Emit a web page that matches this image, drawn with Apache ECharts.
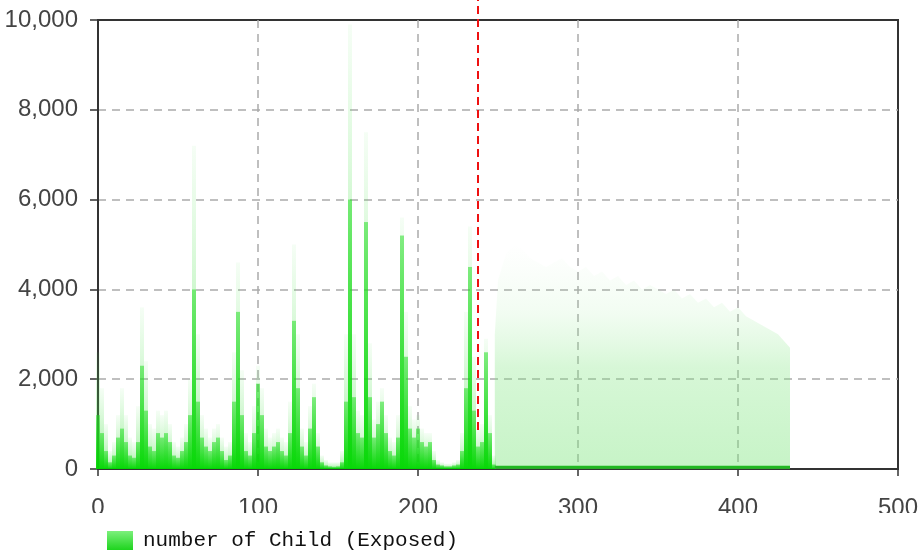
<!DOCTYPE html>
<html lang="en">
<head>
  <meta charset="UTF-8">
  <title>number of Child (Exposed)</title>
  <script src="https://cdn.jsdelivr.net/npm/echarts@6/dist/echarts.min.js"></script>
  <style>
    html, body { margin: 0; padding: 0; background: #fff; }
  </style>
</head>
<body>
<div id="main" style="width: 923px; height: 558px;"></div>
<script>
// bin centres of the spiky part (x axis units)
var binX = [
  0, 2.5, 5, 7.5, 10, 12.5, 15, 17.5, 20, 22.5,
  25, 27.5, 30, 32.5, 35, 37.5, 40, 42.5, 45, 47.5,
  50, 52.5, 55, 57.5, 60, 62.5, 65, 67.5, 70, 72.5,
  75, 77.5, 80, 82.5, 85, 87.5, 90, 92.5, 95, 97.5,
  100, 102.5, 105, 107.5, 110, 112.5, 115, 117.5, 120, 122.5,
  125, 127.5, 130, 132.5, 135, 137.5, 140, 142.5, 145, 147.5,
  150, 152.5, 155, 157.5, 160, 162.5, 165, 167.5, 170, 172.5,
  175, 177.5, 180, 182.5, 185, 187.5, 190, 192.5, 195, 197.5,
  200, 202.5, 205, 207.5, 210, 212.5, 215, 217.5, 220, 222.5,
  225, 227.5, 230, 232.5, 235, 237.5, 240, 242.5, 245, 247.5
];
// dense part of each column
var coreY = [
  1200, 800, 400, 150, 300, 700, 900, 600, 300, 250,
  600, 2300, 1300, 500, 400, 800, 700, 800, 600, 300,
  250, 400, 600, 1200, 4000, 1500, 700, 500, 400, 600,
  700, 400, 200, 300, 1500, 3500, 1200, 400, 300, 800,
  1900, 1200, 500, 400, 500, 600, 400, 300, 800, 3300,
  1800, 500, 300, 900, 1600, 500, 150, 80, 60, 50,
  60, 150, 1500, 6000, 1600, 800, 700, 5500, 1600, 700,
  1000, 1500, 800, 400, 300, 700, 5200, 2500, 900, 700,
  900, 600, 500, 600, 200, 100, 80, 60, 60, 80,
  100, 400, 1800, 4500, 1300, 500, 600, 2600, 800, 100
];
// faint scatter above the dense part
var spreadY = [
  2600, 1800, 1000, 400, 600, 1200, 1800, 1200, 700, 600,
  1400, 3600, 2400, 1000, 900, 1300, 1200, 1300, 1000, 600,
  500, 700, 1000, 2000, 7200, 3000, 1200, 900, 700, 900,
  1000, 700, 500, 600, 2600, 4600, 2200, 800, 600, 1400,
  2300, 1800, 900, 700, 800, 900, 700, 600, 1500, 5000,
  3000, 900, 600, 1400, 1900, 800, 300, 200, 150, 150,
  150, 400, 3000, 9900, 3000, 1300, 1200, 7500, 2800, 1100,
  1500, 1800, 1200, 700, 600, 1200, 5600, 3500, 1400, 1100,
  1200, 900, 800, 800, 400, 200, 150, 120, 120, 150,
  200, 800, 3500, 5400, 2500, 900, 1000, 2900, 1200, 300
];
// light tail after the last spike
var tailX = [
  248, 250, 255, 260, 265, 270, 275, 280, 285, 290,
  295, 300, 305, 310, 315, 320, 325, 330, 335, 340,
  345, 350, 355, 360, 365, 370, 375, 380, 385, 390,
  395, 400, 405, 410, 415, 420, 425, 430, 432.5
];
var tailY = [
  3000, 4200, 4800, 5000, 4900, 4700, 4600, 4500, 4600, 4700,
  4500, 4400, 4500, 4300, 4400, 4200, 4300, 4100, 4200, 4000,
  4100, 4000, 3900, 4000, 3800, 3900, 3700, 3800, 3600, 3700,
  3500, 3600, 3400, 3300, 3200, 3100, 3000, 2800, 2700
];
var floorY = 40;
var cutX = 237.5;
var cutY = [870, 10450];

var yTicks = { min: 0, max: 10000, step: 2000 };
var xTicks = { min: 0, max: 500, step: 100 };

var seriesName = 'number of Child (Exposed)';

function pairs(xs, ys) {
  return xs.map(function (x, i) { return [x, ys[i]]; });
}

var myChart = echarts.init(document.getElementById('main'));

var gridLine = {
  show: true,
  showMinLine: false,
  showMaxLine: false,
  lineStyle: { color: '#aaa', width: 1.5, type: [8, 6] }
};

var option = {
  animation: false,
  backgroundColor: '#fff',
  grid: {
    left: 98,
    right: 25,
    top: 20,
    bottom: 89,
    show: true,
    borderColor: '#333',
    borderWidth: 2
  },
  legend: {
    left: 0,
    top: 513,
    padding: [17, 480, 10, 107],
    backgroundColor: '#fff',
    itemWidth: 26,
    itemHeight: 19,
    icon: 'rect',
    data: [{
      name: seriesName,
      itemStyle: {
        color: {
          type: 'linear', x: 0, y: 0, x2: 0, y2: 1,
          colorStops: [
            { offset: 0, color: '#7cf07c' },
            { offset: 1, color: '#1ed41e' }
          ]
        }
      }
    }],
    textStyle: {
      fontFamily: 'Liberation Mono',
      fontSize: 21,
      color: '#111',
      padding: [0, 0, 0, 5]
    }
  },
  xAxis: {
    type: 'value',
    min: xTicks.min,
    max: xTicks.max,
    interval: xTicks.step,
    axisLine: { lineStyle: { color: '#333', width: 2 } },
    axisTick: { show: true, length: 7, lineStyle: { color: '#333', width: 1.5 } },
    axisLabel: {
      margin: 27,
      fontFamily: 'Liberation Sans',
      fontSize: 24,
      color: '#444'
    },
    splitLine: gridLine
  },
  yAxis: {
    type: 'value',
    min: yTicks.min,
    max: yTicks.max,
    interval: yTicks.step,
    axisLine: { show: true, lineStyle: { color: '#333', width: 2 } },
    axisTick: { show: true, length: 8, lineStyle: { color: '#333', width: 1.5 } },
    axisLabel: {
      margin: 20,
      fontFamily: 'Liberation Sans',
      fontSize: 24,
      color: '#444',
      formatter: function (v) { return v.toLocaleString('en-US'); }
    },
    splitLine: gridLine
  },
  series: [
    {
      name: 'spread',
      type: 'bar',
      barWidth: 4,
      barGap: '-100%',
      data: pairs(binX, spreadY),
      itemStyle: {
        color: {
          type: 'linear', x: 0, y: 0, x2: 0, y2: 1,
          colorStops: [
            { offset: 0, color: 'rgba(90,230,90,0.06)' },
            { offset: 1, color: 'rgba(40,220,40,0.5)' }
          ]
        }
      },
      silent: true
    },
    {
      name: seriesName,
      type: 'bar',
      barWidth: 4,
      barGap: '-100%',
      data: pairs(binX, coreY),
      itemStyle: {
        color: {
          type: 'linear', x: 0, y: 0, x2: 0, y2: 1,
          colorStops: [
            { offset: 0, color: 'rgba(40,222,40,0.55)' },
            { offset: 1, color: 'rgba(0,215,0,0.95)' }
          ]
        }
      },
      silent: true
    },
    {
      name: 'tail',
      type: 'line',
      data: pairs(tailX, tailY),
      symbol: 'none',
      lineStyle: { width: 0, opacity: 0 },
      areaStyle: {
        color: {
          type: 'linear', x: 0, y: 0, x2: 0, y2: 1,
          colorStops: [
            { offset: 0, color: 'rgba(170,238,170,0)' },
            { offset: 0.3, color: 'rgba(150,235,150,0.12)' },
            { offset: 0.55, color: 'rgba(130,230,130,0.32)' },
            { offset: 1, color: 'rgba(120,228,120,0.42)' }
          ]
        },
        opacity: 1
      },
      silent: true
    },
    {
      name: 'floor',
      type: 'line',
      data: [[tailX[0], floorY], [tailX[tailX.length - 1], floorY]],
      symbol: 'none',
      lineStyle: { color: '#22b822', width: 3 },
      silent: true
    },
    {
      name: 'cut',
      type: 'line',
      data: [[cutX, cutY[0]], [cutX, cutY[1]]],
      symbol: 'none',
      clip: false,
      z: 5,
      lineStyle: { color: '#ee1111', width: 2, type: [8, 5] },
      silent: true
    }
  ]
};

myChart.setOption(option);
</script>
</body>
</html>
